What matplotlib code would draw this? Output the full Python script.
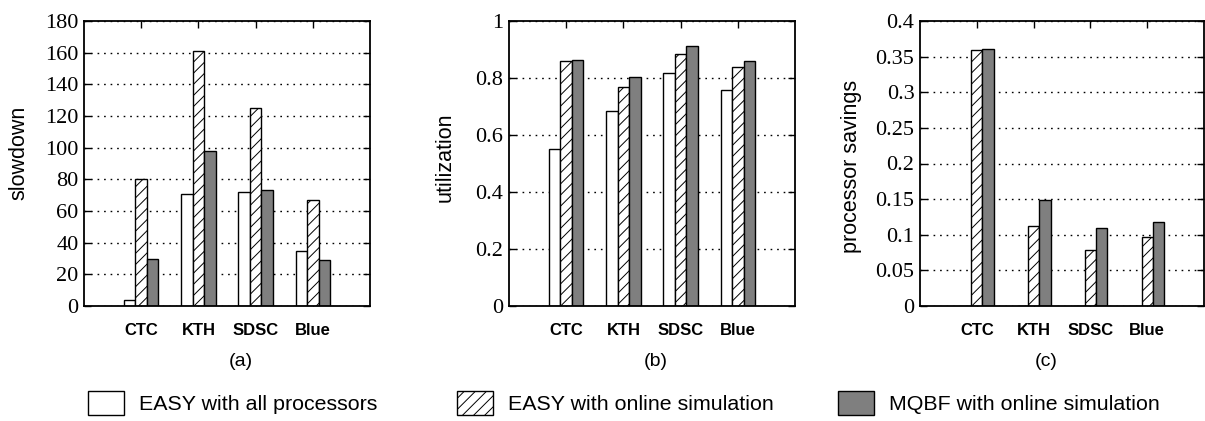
import matplotlib
matplotlib.use("Agg")
import matplotlib.pyplot as plt
from matplotlib.ticker import FuncFormatter
import numpy as np

traces = ["CTC", "KTH", "SDSC", "Blue"]
series = ["EASY with all processors", "EASY with online simulation",
          "MQBF with online simulation"]

slowdown_easy_all = [4, 71, 72, 35]
slowdown_easy_sim = [80, 161, 125, 67]
slowdown_mqbf_sim = [30, 98, 73, 29]

util_easy_all = [0.55, 0.685, 0.817, 0.757]
util_easy_sim = [0.86, 0.77, 0.885, 0.838]
util_mqbf_sim = [0.862, 0.805, 0.912, 0.858]

savings_easy_all = [0, 0, 0, 0]
savings_easy_sim = [0.359, 0.112, 0.078, 0.097]
savings_mqbf_sim = [0.361, 0.149, 0.109, 0.118]

W, H = 1205, 421
fig = plt.figure(figsize=(W / 100, H / 100), dpi=100)
plt.rcParams['hatch.linewidth'] = 0.7

serif = ['Liberation Serif', 'DejaVu Serif']
sans = ['Liberation Sans', 'DejaVu Sans']

styles = [dict(facecolor='white', hatch=None),
          dict(facecolor='white', hatch='///'),
          dict(facecolor='#7f7f7f', hatch=None)]

def px_axes(left, right, top=21, bottom=306):
    return fig.add_axes([left / W, 1 - bottom / H, (right - left) / W, (bottom - top) / H])

panels = [
    dict(box=(84, 370), data=(slowdown_easy_all, slowdown_easy_sim, slowdown_mqbf_sim),
         ylim=180, step=20, ylabel="slowdown", lab=(-0.192, 0.537), cap="(a)", capx=241),
    dict(box=(509, 795), data=(util_easy_all, util_easy_sim, util_mqbf_sim),
         ylim=1.0, step=0.2, ylabel="utilization", lab=(-0.185, 0.523), cap="(b)", capx=656),
    dict(box=(920, 1204), data=(savings_easy_all, savings_easy_sim, savings_mqbf_sim),
         ylim=0.4, step=0.05, ylabel="processor savings", lab=(-0.204, 0.49), cap="(c)", capx=1046),
]

x = np.arange(1, len(traces) + 1)
bw = 0.2
handles = []
for p in panels:
    ax = px_axes(*p['box'])
    for i, vals in enumerate(p['data']):
        b = ax.bar(x + (i - 1) * bw, vals, bw, edgecolor='black', linewidth=1.0,
                   zorder=2, **styles[i])
        if len(handles) < 3:
            handles.append(b)
    ax.set_xlim(0, 5)
    ax.set_ylim(0, p['ylim'])
    ax.set_yticks(np.arange(0, p['ylim'] + p['step'] / 2, p['step']))
    ax.yaxis.set_major_formatter(FuncFormatter(lambda v, pos: "%g" % round(v, 4)))
    ax.set_xticks(x)
    ax.set_xticklabels(traces, fontfamily=sans, fontweight='bold', fontsize=12)
    for t in ax.get_yticklabels():
        t.set_fontfamily(serif)
        t.set_fontsize(16)
    ax.tick_params(axis='y', direction='in', length=5, width=1, left=True, right=True, pad=4)
    ax.tick_params(axis='x', direction='in', length=5, width=1, top=True, bottom=True, pad=12)
    ax.yaxis.grid(True, color='black', linestyle=(0, (1.2, 3.5)), linewidth=1.0)
    ax.set_axisbelow(True)
    for s in ax.spines.values():
        s.set_linewidth(1.3)
        s.set_zorder(3)
    ax.set_ylabel(p['ylabel'], fontfamily=sans, fontsize=15.5)
    ax.yaxis.set_label_coords(*p['lab'])
    fig.text(p['capx'] / W, 1 - 362 / H, p['cap'], fontfamily=sans, fontsize=14,
             ha='center', va='center')

# legend, one entry per group, placed like the original
legend_x = [88, 457, 838]
for h, lbl, lx in zip(handles, series, legend_x):
    fig.legend([h], [lbl], loc='center left', bbox_to_anchor=(lx / W, 1 - 403 / H),
               frameon=False, borderpad=0, borderaxespad=0,
               handlelength=1.68, handleheight=1.35, handletextpad=0.72,
               prop=dict(family=sans, size=15.4))

fig.savefig("out.png", dpi=100)
